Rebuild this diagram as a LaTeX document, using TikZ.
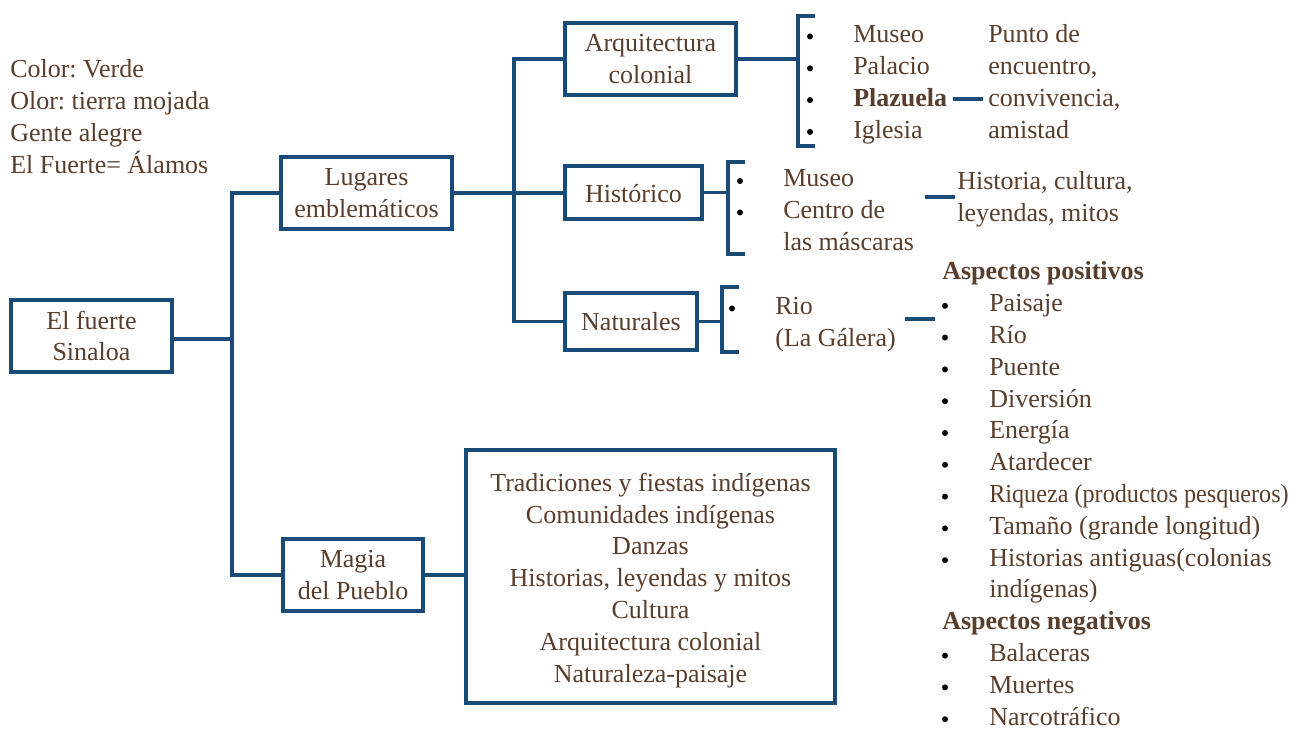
\documentclass[tikz,border=0pt]{standalone}
\usepackage{fontspec}
\usepackage{graphicx}
\setmainfont{Liberation Serif}
\frenchspacing
\definecolor{lb}{RGB}{24,75,120}
\definecolor{tb}{RGB}{88,62,45}
\newcommand{\fsz}{\fontsize{19.5pt}{23.85pt}\selectfont\frenchspacing}
\begin{document}
\begin{tikzpicture}[x=0.75pt,y=-0.75pt,
  every node/.style={font=\fsz, text=tb, inner sep=0pt},
  box/.style={draw=lb, line width=2.5pt, align=center},
  conn/.style={draw=lb, line width=2.5pt},
  txt/.style={anchor=base west},
  btxt/.style={anchor=base west, font=\fsz\bfseries},
  dot/.style={circle, fill=black, minimum size=4.5pt}
]
\useasboundingbox (0,0) rectangle (1297,730);

% left notes
\node[txt] (n1) at (10,77.7) {Color: Verde};
\node[txt] (n2) at (10,109.5) {Olor: tierra mojada};
\node[txt] (n3) at (10,141.3) {Gente alegre};
\node[txt] (n4) at (10,173.1) {El Fuerte= Álamos};

% boxes
\node[box, minimum width=120.75pt, minimum height=54pt] (fuerte) at (91.5,336) {El fuerte\\Sinaloa};
\node[box, minimum width=128.25pt, minimum height=54pt] (lug) at (366.5,193) {Lugares\\emblemáticos};
\node[box, minimum width=128.25pt, minimum height=54pt] (arq) at (650.5,59) {Arquitectura\\colonial};
\node[box, minimum width=102.75pt, minimum height=39.75pt] (hist) at (633.5,192.5) {\rule{0pt}{15pt}Histórico};
\node[box, minimum width=99pt, minimum height=42.75pt] (nat) at (631,321.5) {Naturales};
\node[box, minimum width=105pt, minimum height=54pt] (magia) at (353,575) {Magia\\del Pueblo};
\node[box, minimum width=276.75pt, minimum height=189.75pt] (big) at (650.5,576.5)
  {\rule{0pt}{19.5pt}Tradiciones y fiestas indígenas\\Comunidades indígenas\\Danzas\\Historias, leyendas y mitos\\Cultura\\Arquitectura colonial\\Naturaleza-paisaje};

% trunk connectors
\coordinate (t1) at (232,339);
\draw[conn] (fuerte.east |- t1) -- (t1);
\draw[conn] (lug.west) -| (t1) |- (magia.west);
\draw[conn] (magia.east) -- (magia.east -| big.west);
\coordinate (t2) at (514,193);
\draw[conn] (lug.east) -- (lug.east -| hist.west);
\draw[conn] (arq.west) -| (t2) |- (nat.west);

% brackets
\coordinate (k1) at (798,63);
\draw[conn] (arq.east) -- (arq.east -| k1);
\draw[conn] (815,16) -- (798,16) -- (798,146) -- (815,146);
\coordinate (k2) at (728,193);
\draw[conn] (hist.east) -- (hist.east -| k2);
\draw[conn] (745,162) -- (728,162) -- (728,254) -- (745,254);
\coordinate (k3) at (722,319);
\draw[conn] (nat.east) -- (nat.east -| k3);
\draw[conn] (739,287) -- (722,287) -- (722,352) -- (739,352);

% list 1
\node[dot] (d11) at (810,36.5) {};
\node[dot] (d12) at (810,68.3) {};
\node[dot] (d13) at (810,100.1) {};
\node[dot] (d14) at (810,131.9) {};
\node[txt] (a1) at (853,43) {Museo};
\node[txt] (a2) at (853,74.8) {Palacio};
\node[btxt] (a3) at (853,106.6) {Plazuela};
\node[txt] (a4) at (853,138.4) {Iglesia};
\node[txt] (p1) at (988,43) {Punto de};
\node[txt] (p2) at (988,74.8) {encuentro,};
\node[txt] (p3) at (988,106.6) {convivencia,};
\node[txt] (p4) at (988,138.4) {amistad};
\coordinate (e1a) at (953,99);
\coordinate (e1b) at (983,99);
\draw[conn] (e1a) -- (e1b);

% list 2
\node[dot] (d21) at (740,181) {};
\node[dot] (d22) at (740,212.5) {};
\node[txt] (h1) at (783,187) {Museo};
\node[txt] (h2) at (783,218.8) {Centro de};
\node[txt] (h3) at (783,250.6) {las máscaras};
\node[txt] (q1) at (957,190) {Historia, cultura,};
\node[txt] (q2) at (957,221.8) {leyendas, mitos};
\coordinate (e2a) at (925,197);
\coordinate (e2b) at (955,197);
\draw[conn] (e2a) -- (e2b);

% list 3
\node[dot] (d31) at (732,308.5) {};
\node[txt] (r1) at (775,314.5) {Rio};
\node[txt] (r2) at (775,346.3) {(La Gálera)};
\coordinate (e3a) at (905,319);
\coordinate (e3b) at (935,319);
\draw[conn] (e3a) -- (e3b);

% aspects
\node[btxt] (ap) at (942,280) {Aspectos positivos};
\foreach \t [count=\i] in {Paisaje,Río,Puente,Diversión,Energía,Atardecer,{\scalebox{0.93}[1]{Riqueza (productos pesqueros)}},Tamaño (grande longitud),Historias antiguas(colonias}{
  \node[dot] (pd\i) at (945,{280+31.8*\i-6}) {};
  \node[txt] (pt\i) at (989,{280+31.8*\i}) {\t};
}
\node[txt] (pt10) at (989,598) {indígenas)};
\node[btxt] (an) at (942,629.8) {Aspectos negativos};
\foreach \t [count=\i] in {Balaceras,Muertes,Narcotráfico}{
  \node[dot] (nd\i) at (945,{629.8+31.8*\i-6}) {};
  \node[txt] (nt\i) at (989,{629.8+31.8*\i}) {\t};
}
\end{tikzpicture}
\end{document}
